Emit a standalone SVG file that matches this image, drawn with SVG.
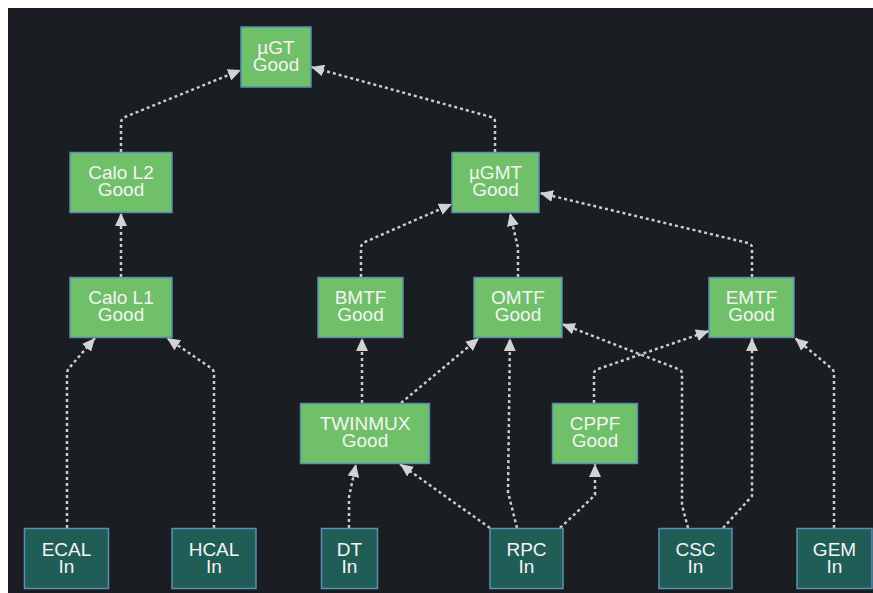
<svg xmlns="http://www.w3.org/2000/svg" width="873" height="593" viewBox="0 0 873 593">
<defs>
<style>
.good rect { fill: #70bf69; stroke: #5a8cb4; stroke-width: 1.5; }
.inp rect { fill: #215d57; stroke: #5d8fb6; stroke-width: 1.5; }
.lbl { font-family: "Liberation Sans", Arial, sans-serif; font-size: 19px; fill: #f4f4f4; text-anchor: middle; }
.edge { fill: none; stroke: #cdcdcd; stroke-width: 2.5; stroke-dasharray: 3 3; stroke-linejoin: round; marker-end: url(#arr); }
</style>
<marker id="arr" markerUnits="userSpaceOnUse" viewBox="0 0 13 12" markerWidth="13" markerHeight="12" refX="13" refY="6" orient="auto">
<path d="M0,0 L13,6 L0,12 z" fill="#d2d2d2"/>
</marker>
</defs>
<rect x="0" y="0" width="873" height="593" fill="#ffffff"/>
<rect x="8" y="8" width="865" height="585" fill="#1a1d21"/>

<g id="connectors">
<path class="edge" d="M121,152 L121,123 Q121,119 125,117 L241,70"/>
<path class="edge" d="M495,152 L495,122 Q495,118 491,117 L311,67"/>
<path class="edge" d="M121,277 L121,213"/>
<path class="edge" d="M361,277 L361,248 Q361,244 365,242 L452,204"/>
<path class="edge" d="M518,277 L518,248 L510,213"/>
<path class="edge" d="M752,277 L752,248 Q752,244 748,243 L540,193"/>
<path class="edge" d="M67,528 L67,374 Q67,370 70,367 L95,338"/>
<path class="edge" d="M214,528 L214,374 Q214,370 211,368 L167,338"/>
<path class="edge" d="M362,403 L362,338"/>
<path class="edge" d="M401,403 L479,338"/>
<path class="edge" d="M349,528 L349,497 L356,464"/>
<path class="edge" d="M490,528 L400,464"/>
<path class="edge" d="M517,528 L508,492 L510,338"/>
<path class="edge" d="M560,528 L595,495 L595,464"/>
<path class="edge" d="M688,528 L682,505 L682,374 Q682,370 678,369 L562,324"/>
<path class="edge" d="M723,528 L752,496 L752,338"/>
<path class="edge" d="M594,403 L594,374 Q594,370 598,369 L709,331"/>
<path class="edge" d="M834,528 L834,374 Q834,370 831,368 L795,338"/>
</g>

<g id="n-ugt" class="good" transform="translate(276,57)"><rect x="-35" y="-30" width="70" height="60"/><text class="lbl"><tspan x="0" y="-3.5">µGT</tspan><tspan x="0" y="13.5">Good</tspan></text></g>
<g id="n-calol2" class="good" transform="translate(121,182.5)"><rect x="-51" y="-30" width="102" height="60"/><text class="lbl"><tspan x="0" y="-3.5">Calo L2</tspan><tspan x="0" y="13.5">Good</tspan></text></g>
<g id="n-ugmt" class="good" transform="translate(495.5,182.5)"><rect x="-43.5" y="-30" width="87" height="60"/><text class="lbl"><tspan x="0" y="-3.5">µGMT</tspan><tspan x="0" y="13.5">Good</tspan></text></g>
<g id="n-calol1" class="good" transform="translate(121,307.5)"><rect x="-51" y="-30" width="102" height="60"/><text class="lbl"><tspan x="0" y="-3.5">Calo L1</tspan><tspan x="0" y="13.5">Good</tspan></text></g>
<g id="n-bmtf" class="good" transform="translate(360.5,307.5)"><rect x="-42.5" y="-30" width="85" height="60"/><text class="lbl"><tspan x="0" y="-3.5">BMTF</tspan><tspan x="0" y="13.5">Good</tspan></text></g>
<g id="n-omtf" class="good" transform="translate(518,307.5)"><rect x="-44" y="-30" width="88" height="60"/><text class="lbl"><tspan x="0" y="-3.5">OMTF</tspan><tspan x="0" y="13.5">Good</tspan></text></g>
<g id="n-emtf" class="good" transform="translate(751.5,307.5)"><rect x="-42.5" y="-30" width="85" height="60"/><text class="lbl"><tspan x="0" y="-3.5">EMTF</tspan><tspan x="0" y="13.5">Good</tspan></text></g>
<g id="n-twinmux" class="good" transform="translate(365,433.5)"><rect x="-64.5" y="-30" width="129" height="60"/><text class="lbl"><tspan x="0" y="-3.5">TWINMUX</tspan><tspan x="0" y="13.5">Good</tspan></text></g>
<g id="n-cppf" class="good" transform="translate(595,433.5)"><rect x="-42.5" y="-30" width="85" height="60"/><text class="lbl"><tspan x="0" y="-3.5">CPPF</tspan><tspan x="0" y="13.5">Good</tspan></text></g>
<g id="n-ecal" class="inp" transform="translate(66.5,558.5)"><rect x="-42" y="-30" width="84" height="60"/><text class="lbl"><tspan x="0" y="-3">ECAL</tspan><tspan x="0" y="14">In</tspan></text></g>
<g id="n-hcal" class="inp" transform="translate(214,558.5)"><rect x="-42" y="-30" width="84" height="60"/><text class="lbl"><tspan x="0" y="-3">HCAL</tspan><tspan x="0" y="14">In</tspan></text></g>
<g id="n-dt" class="inp" transform="translate(349.5,558.5)"><rect x="-28" y="-30" width="56" height="60"/><text class="lbl"><tspan x="0" y="-3">DT</tspan><tspan x="0" y="14">In</tspan></text></g>
<g id="n-rpc" class="inp" transform="translate(526.5,558.5)"><rect x="-36.5" y="-30" width="73" height="60"/><text class="lbl"><tspan x="0" y="-3">RPC</tspan><tspan x="0" y="14">In</tspan></text></g>
<g id="n-csc" class="inp" transform="translate(695.5,558.5)"><rect x="-36.5" y="-30" width="73" height="60"/><text class="lbl"><tspan x="0" y="-3">CSC</tspan><tspan x="0" y="14">In</tspan></text></g>
<g id="n-gem" class="inp" transform="translate(834.5,558.5)"><rect x="-37.5" y="-30" width="75" height="60"/><text class="lbl"><tspan x="0" y="-3">GEM</tspan><tspan x="0" y="14">In</tspan></text></g>
</svg>
